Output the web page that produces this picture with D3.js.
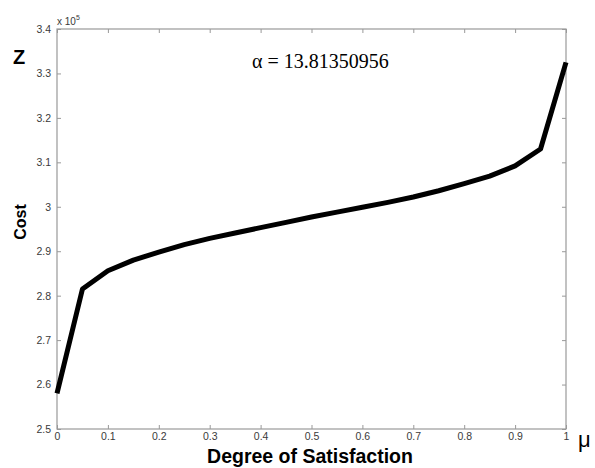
<!DOCTYPE html>
<html>
<head>
<meta charset="utf-8">
<script src="https://cdn.jsdelivr.net/npm/d3@7"></script>
<style>
body { margin: 0; background: #fff; }
</style>
</head>
<body>
<div id="chart"></div>
<script>
// degree of satisfaction vs cost (x 10^5)
var mu = [0, 0.05, 0.1, 0.15, 0.2, 0.25, 0.3, 0.35, 0.4, 0.45, 0.5, 0.55, 0.6, 0.65, 0.7, 0.75, 0.8, 0.85, 0.9, 0.95, 1];
var cost = [2.58, 2.815, 2.856, 2.880, 2.898, 2.915, 2.929, 2.941, 2.953, 2.965, 2.977, 2.988, 2.999, 3.010, 3.022, 3.036, 3.052, 3.069, 3.092, 3.130, 3.325];
var xTicks = [0, 0.1, 0.2, 0.3, 0.4, 0.5, 0.6, 0.7, 0.8, 0.9, 1];
var yTicks = [2.5, 2.6, 2.7, 2.8, 2.9, 3, 3.1, 3.2, 3.3, 3.4];

var W = 595, H = 468;
var margin = {top: 29, right: 29, bottom: 39, left: 57};
var width = W - margin.left - margin.right;
var height = H - margin.top - margin.bottom;

var x = d3.scaleLinear().domain([0, 1]).range([0, width]);
var y = d3.scaleLinear().domain([2.5, 3.4]).range([height, 0]);

var svg = d3.select("#chart").append("svg")
	.attr("width", W)
	.attr("height", H)
	.append("g")
	.attr("transform", "translate(" + margin.left + "," + margin.top + ")");

var axisColor = "#999";
var labelColor = "#3a3a3a";
var sans = "Arial, 'Liberation Sans', sans-serif";

function styleAxis(g) {
	g.select(".domain").remove();
	g.selectAll(".tick line").attr("stroke", axisColor);
	g.selectAll(".tick text").attr("fill", labelColor)
		.style("font-family", sans)
		.style("font-size", "10.5px");
}

// bottom axis
svg.append("g")
	.attr("transform", "translate(0," + height + ")")
	.call(d3.axisBottom(x).tickValues(xTicks).tickSize(-4).tickPadding(4).tickFormat(d3.format("")))
	.call(styleAxis);

// top ticks
svg.append("g")
	.call(d3.axisTop(x).tickValues(xTicks).tickSize(-4).tickFormat(""))
	.call(styleAxis);

// left axis
svg.append("g")
	.call(d3.axisLeft(y).tickValues(yTicks).tickSize(-4).tickPadding(6).tickFormat(d3.format("")))
	.call(styleAxis);

// right ticks
svg.append("g")
	.attr("transform", "translate(" + width + ",0)")
	.call(d3.axisRight(y).tickValues(yTicks).tickSize(-4).tickFormat(""))
	.call(styleAxis);

// box
svg.append("rect")
	.attr("width", width)
	.attr("height", height)
	.attr("fill", "none")
	.attr("stroke", axisColor)
	.attr("stroke-width", 1.2);

// the curve
var data = mu.map(function(m, i) { return {mu: m, cost: cost[i]}; });
var line = d3.line()
	.x(function(d) { return x(d.mu); })
	.y(function(d) { return y(d.cost); });

svg.append("path")
	.datum(data)
	.attr("fill", "none")
	.attr("stroke", "#000")
	.attr("stroke-width", 5)
	.attr("stroke-linejoin", "round")
	.attr("d", line);

// texts
var exp = svg.append("text")
	.attr("x", 0)
	.attr("y", -4)
	.attr("fill", labelColor)
	.style("font-family", sans)
	.style("font-size", "10px");
exp.append("tspan").text("x 10");
exp.append("tspan").attr("dy", -5).style("font-size", "7px").text("5");

svg.append("text")
	.attr("x", -44)
	.attr("y", 35)
	.style("font-family", sans)
	.style("font-weight", "bold")
	.style("font-size", "20px")
	.text("Z");

svg.append("text")
	.attr("transform", "translate(-31," + (height / 2 - 7) + ") rotate(-90)")
	.attr("text-anchor", "middle")
	.style("font-family", sans)
	.style("font-weight", "bold")
	.style("font-size", "16px")
	.text("Cost");

svg.append("text")
	.attr("x", 253)
	.attr("y", height + 34)
	.attr("text-anchor", "middle")
	.style("font-family", sans)
	.style("font-weight", "bold")
	.style("font-size", "19.5px")
	.text("Degree of Satisfaction");

svg.append("text")
	.attr("x", width + 12)
	.attr("y", height + 18)
	.style("font-family", sans)
	.style("font-size", "22px")
	.text("μ");

svg.append("text")
	.attr("x", 195)
	.attr("y", 39)
	.style("font-family", "'Liberation Serif', 'Times New Roman', serif")
	.style("font-size", "20px")
	.text("α = 13.81350956");
</script>
</body>
</html>
